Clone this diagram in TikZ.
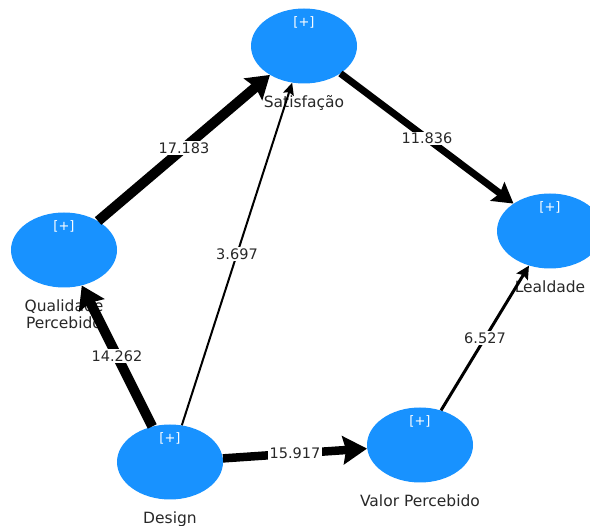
\documentclass[tikz,border=0pt]{standalone}
\usepackage{fontspec}
\setmainfont{DejaVu Sans}
\usetikzlibrary{shapes.geometric,arrows.meta}
\definecolor{lvblue}{RGB}{24,146,255}
\definecolor{txt}{RGB}{40,40,40}
\begin{document}
\begin{tikzpicture}[x=1pt,y=-1pt,
  lv/.style={ellipse, fill=lvblue, minimum width=106pt, minimum height=75pt, inner sep=0pt},
  plus/.style={text=white, font=\fontsize{13}{15}\selectfont, inner sep=0pt},
  vname/.style={text=txt, font=\fontsize{15.5}{17}\selectfont, inner sep=0pt, align=center, anchor=north},
  conn/.style={draw=black, line join=miter},
  coef/.style={fill=white, text=txt, font=\fontsize{14.5}{16}\selectfont, inner sep=1.5pt},
]
\clip (0,0) rectangle (590,526);
\useasboundingbox (0,0) rectangle (590,526);
\fill[white] (0,0) rectangle (590,526);

% latent variables
\node[lv] (sat)  at (304,46)  {};
\node[lv] (qual) at (64,250)  {};
\node[lv] (leal) at (550,231) {};
\node[lv] (des)  at (170,462) {};
\node[lv] (val)  at (420,445) {};

\foreach \n in {sat,qual,leal,des,val}{
  \node[plus] (\n p) at ([yshift=-14pt]\n.north) {[+]};
}

% names
\node[vname] (satn)  at ([yshift=-12pt]sat.south)  {Satisfação};
\node[vname] (qualn) at ([yshift=-12pt]qual.south) {Qualidade\\Percebido};
\node[vname] (lealn) at ([yshift=-12pt]leal.south) {Lealdade};
\node[vname] (desn)  at ([yshift=-12pt]des.south)  {Design};
\node[vname] (valn)  at ([yshift=-12pt]val.south)  {Valor Percebido};

% paths
\draw[conn, line width=10pt, -{Stealth[length=22pt,width=28pt,inset=3pt]}] (qual) -- (sat) node[coef, midway] {17.183};
\draw[conn, line width=10pt, -{Stealth[length=22pt,width=28pt,inset=3pt]}] (des) -- (qual) node[coef, midway] {14.262};
\draw[conn, line width=8.5pt, -{Stealth[length=24pt,width=28pt,inset=3pt]}] (des) -- (val) node[coef, midway] {15.917};
\draw[conn, line width=7pt, -{Stealth[length=20pt,width=23pt,inset=3pt]}] (sat) -- (leal) node[coef, midway] {11.836};
\draw[conn, line width=3pt, -{Stealth[length=13pt,width=13pt,inset=2pt]}] (val) -- (leal) node[coef, midway] {6.527};
\draw[conn, line width=2pt, -{Stealth[length=12pt,width=11pt,inset=2pt]}] (des) -- (sat) node[coef, midway] {3.697};
\end{tikzpicture}
\end{document}
